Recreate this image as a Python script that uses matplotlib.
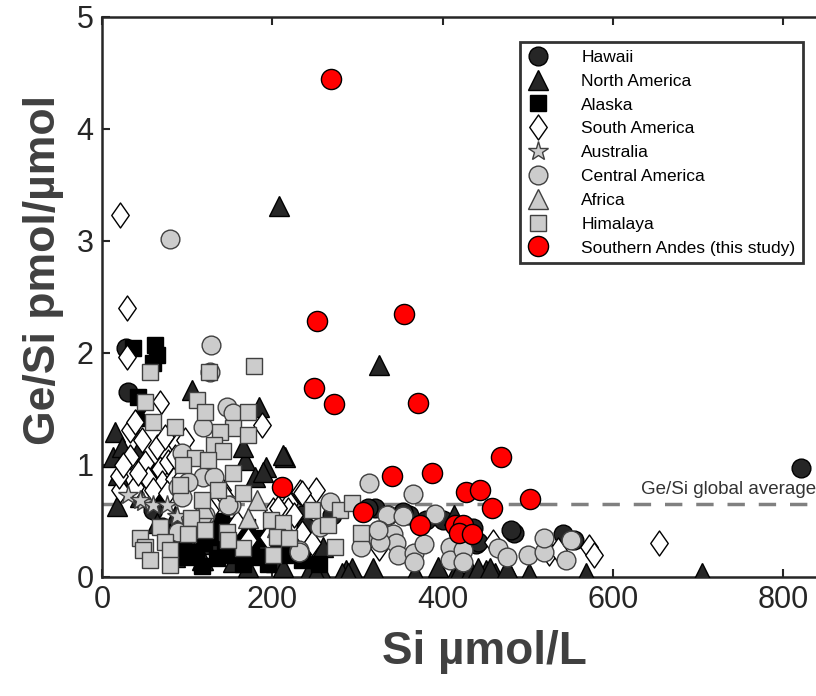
import numpy as np
import matplotlib
matplotlib.use("Agg")
import matplotlib.pyplot as plt
from matplotlib.path import Path

plt.rcParams['font.family'] = ['Liberation Sans', 'DejaVu Sans']

# ---- data (Si umol/L, Ge/Si pmol/umol) ----
hawaii_x = [821, 28, 31, 484, 541, 554, 321, 360, 436, 439, 401, 354, 380, 441, 480, 312, 235, 336,
            70, 95, 130, 150, 185, 60, 110, 200, 240, 270]
hawaii_y = [0.97, 2.04, 1.65, 0.39, 0.38, 0.33, 0.62, 0.55, 0.44, 0.29, 0.51, 0.58, 0.51, 0.31, 0.42, 0.62, 0.55, 0.55,
            0.45, 0.35, 0.30, 0.45, 0.30, 0.60, 0.50, 0.40, 0.45, 0.55]

namer_x = [208, 325, 704, 15, 13, 18, 24, 19, 45, 106, 184, 215, 168, 192, 165, 213, 180, 189, 65, 86,
           86, 118, 154, 171, 204, 213, 106, 168, 129, 119, 247, 256, 286, 294, 318, 259, 242, 251, 282, 289,
           368, 392, 415, 435, 451, 462, 478, 501, 568, 394, 418, 431, 441, 456, 476, 413, 42]
namer_y = [3.31, 1.89, 0.04, 1.29, 1.07, 0.63, 1.16, 0.91, 0.71, 1.67, 1.52, 1.07, 1.04, 0.98, 1.16, 1.09, 0.89, 0.94, 0.48, 0.54,
           0.18, 0.15, 0.13, 0.09, 0.13, 0.09, 0.26, 0.21, 0.29, 0.15, 0.08, 0.08, 0.06, 0.08, 0.08, 0.27, 0.04, 0.04, 0.04, 0.04,
           0.04, 0.04, 0.04, 0.04, 0.06, 0.04, 0.04, 0.04, 0.04, 0.09, 0.04, 0.04, 0.08, 0.08, 0.08, 0.55, 1.12]

alaska_x = [62, 65, 60, 36, 42, 48, 95, 110, 120, 135, 145, 155, 165, 175, 185, 195, 205, 128, 150, 170,
            100, 118, 140, 160, 190, 215, 235, 255, 80, 65, 55]
alaska_y = [2.07, 1.98, 1.91, 2.04, 1.61, 1.42, 0.30, 0.22, 0.30, 0.17, 0.25, 0.20, 0.12, 0.30, 0.18, 0.12, 0.24, 0.36, 0.40, 0.45,
            0.18, 0.10, 0.50, 0.32, 0.35, 0.20, 0.15, 0.12, 0.40, 0.75, 0.95]

samer_x = [21, 29, 29, 654, 572, 578, 525, 535, 459, 233, 251, 219, 235, 247, 325, 68, 59, 33, 47, 39,
           65, 74, 88, 98, 188, 51, 68, 78, 54, 71, 84, 39, 60, 76, 94, 42, 33, 86, 141, 127,
           159, 145, 172, 201, 218, 212, 195, 235, 207, 225, 21, 20, 25]
samer_y = [3.23, 2.40, 1.96, 0.30, 0.27, 0.20, 0.21, 0.24, 0.31, 0.76, 0.78, 0.66, 0.39, 0.30, 0.26, 1.55, 1.46, 1.31, 1.22, 1.38,
           1.16, 1.25, 1.18, 1.22, 1.36, 1.02, 0.96, 1.03, 0.87, 0.84, 0.87, 0.80, 0.78, 0.75, 0.89, 0.93, 1.07, 1.07, 0.78, 0.60,
           0.48, 0.71, 0.33, 0.60, 0.60, 0.42, 0.36, 0.75, 0.62, 0.55, 0.78, 0.90, 1.00]

austr_x = [31, 48, 60, 76, 88, 45]
austr_y = [0.73, 0.67, 0.64, 0.64, 0.54, 0.69]

camer_x = [80, 128, 127, 147, 154, 119, 94, 119, 131, 101, 89, 151, 94, 121, 89, 118, 148, 231,
           313, 365, 335, 353, 391, 325, 342, 345, 348, 366, 378, 366, 409, 409, 424, 424, 465, 476, 500, 519,
           519, 545, 268, 306, 304, 327, 324, 256, 231, 551]
camer_y = [3.02, 2.07, 1.83, 1.52, 1.46, 1.34, 1.11, 0.89, 0.89, 0.85, 0.80, 0.64, 0.71, 0.55, 0.40, 0.54, 0.64, 0.24,
           0.84, 0.74, 0.55, 0.54, 0.56, 0.42, 0.38, 0.30, 0.20, 0.21, 0.29, 0.13, 0.27, 0.15, 0.24, 0.13, 0.26, 0.18, 0.20, 0.22,
           0.35, 0.15, 0.67, 0.36, 0.27, 0.31, 0.42, 0.45, 0.22, 0.33]

africa_x = [182, 172, 120, 205]
africa_y = [0.69, 0.53, 0.62, 0.45]

himal_x = [56, 178, 126, 51, 60, 86, 112, 121, 172, 154, 139, 171, 131, 142, 109, 125, 95, 154, 92, 136,
           166, 118, 198, 104, 213, 121, 147, 68, 45, 74, 101, 166, 201, 148, 51, 80, 206, 219, 247, 280,
           294, 265, 274, 304, 48, 56, 80]
himal_y = [1.83, 1.88, 1.83, 1.56, 1.38, 1.34, 1.58, 1.47, 1.47, 1.33, 1.29, 1.27, 1.18, 1.12, 1.06, 1.04, 1.00, 0.93, 0.82, 0.78,
           0.75, 0.69, 0.51, 0.53, 0.48, 0.42, 0.40, 0.45, 0.35, 0.31, 0.38, 0.26, 0.20, 0.33, 0.27, 0.24, 0.36, 0.35, 0.60, 0.60,
           0.66, 0.46, 0.27, 0.39, 0.24, 0.15, 0.11]

andes_x = [269, 253, 355, 249, 273, 371, 211, 341, 388, 468, 428, 444, 458, 502, 306, 374, 415, 424, 419, 435]
andes_y = [4.44, 2.28, 2.35, 1.69, 1.54, 1.55, 0.80, 0.90, 0.93, 1.07, 0.76, 0.78, 0.62, 0.70, 0.58, 0.46, 0.46, 0.46, 0.39, 0.38]

global_avg = 0.65

diamond = Path([(-0.7, 0), (0, 1), (0.7, 0), (0, -1), (-0.7, 0)],
               [Path.MOVETO, Path.LINETO, Path.LINETO, Path.LINETO, Path.CLOSEPOLY])

fig = plt.figure(figsize=(8.16, 6.96), dpi=100)
ax = fig.add_axes([0.125, 0.171, 0.885, 0.805])

ax.axhline(global_avg, color='#808080', lw=2.5, dashes=(5, 4), zorder=1)

series = [
    ('Hawaii', hawaii_x, hawaii_y, 'o', 13.5, '#262626', 'black', 2),
    ('North America', namer_x, namer_y, '^', 15, '#262626', 'black', 3),
    ('Alaska', alaska_x, alaska_y, 's', 11, 'black', 'black', 4),
    ('South America', samer_x, samer_y, diamond, 18, 'white', 'black', 5),
    ('Australia', austr_x, austr_y, '*', 15, '#cccccc', '#404040', 6),
    ('Central America', camer_x, camer_y, 'o', 13.5, '#cccccc', '#404040', 7),
    ('Africa', africa_x, africa_y, '^', 15, '#cccccc', '#404040', 8),
    ('Himalaya', himal_x, himal_y, 's', 11.5, '#cccccc', '#404040', 9),
    ('Southern Andes (this study)', andes_x, andes_y, 'o', 14.5, '#ff0000', 'black', 10),
]
for name, xs, ys, mk, ms, fc, ec, z in series:
    ax.plot(xs, ys, linestyle='none', marker=mk, markersize=ms, markerfacecolor=fc,
            markeredgecolor=ec, markeredgewidth=1.0, label=name, zorder=z)

ax.text(838, 0.78, 'Ge/Si global average', ha='right', va='center',
        fontsize=13.5, color='#333333', zorder=11)

ax.set_xlim(0, 848)
ax.set_ylim(0, 5)
ax.set_xticks([0, 200, 400, 600, 800])
ax.set_yticks([0, 1, 2, 3, 4, 5])
ax.tick_params(direction='in', length=6, width=1.5, labelsize=22, top=True, right=True,
               colors='#262626', pad=6)
for s in ax.spines.values():
    s.set_linewidth(1.8)
    s.set_color('#262626')

ax.set_xlabel('Si µmol/L', fontsize=33, fontweight='bold', color='#404040')
ax.set_ylabel('Ge/Si pmol/µmol', fontsize=32, fontweight='bold', color='#404040')
ax.xaxis.set_label_coords(0.529, -0.095)
ax.yaxis.set_label_coords(-0.053, 0.548)

leg = ax.legend(loc='upper right', bbox_to_anchor=(0.971, 0.955), fontsize=12.5, frameon=True,
                fancybox=False, edgecolor='black', handletextpad=1.9, labelspacing=0.5,
                borderpad=0.45, markerscale=1.0, handlelength=1.2, borderaxespad=0)
leg.get_frame().set_linewidth(2.0)
leg.set_zorder(20)

fig.savefig('out.png', dpi=100)
